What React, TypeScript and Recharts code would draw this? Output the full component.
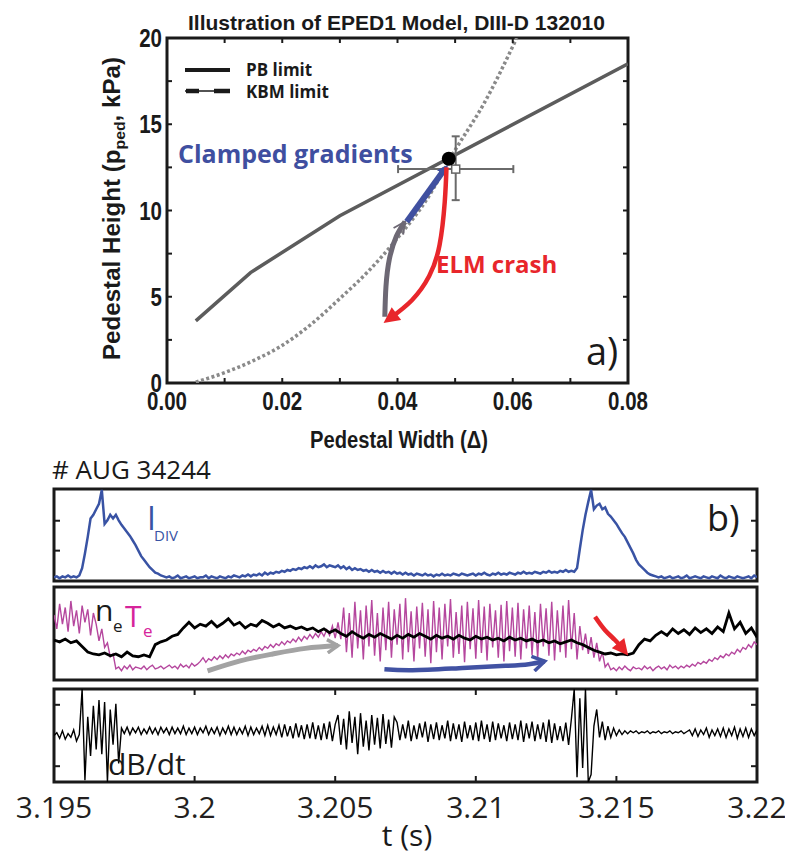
import React from "react";
import { ComposedChart, Line, Scatter, ErrorBar, XAxis, YAxis, ReferenceArea } from "recharts";

const COND = "'Liberation Sans', Arial, sans-serif";
const SANS = "'Open Sans', 'Noto Sans', sans-serif";
const INK = "#1a1a1a";

// ---------- panel a: EPED1 constraints (width, pedestal pressure in kPa) ----------
const pbWidth = [0.005, 0.0145, 0.03, 0.08];
const pbHeight = [3.6, 6.4, 9.7, 18.5];
const kbmWidth = [0.005, 0.01, 0.015, 0.0196, 0.025, 0.03, 0.035, 0.04, 0.045, 0.05, 0.055, 0.0607];
const kbmHeight = [0.05, 0.6, 1.3, 2.1, 3.4, 4.9, 6.5, 8.4, 10.6, 13.5, 16.2, 20];

// measured pedestal (open square with error bars) and EPED1 prediction (black dot)
const measured = [{ x: 0.0501, y: 12.4, ex: 0.01, ey: [1.8, 1.9] }];
const predicted = [{ x: 0.0489, y: 13.0 }];

// ELM cycle arrows
const recoverWidth = [0.0378, 0.038, 0.0386, 0.0398, 0.0413];
const recoverHeight = [3.84, 5.6, 7.2, 8.5, 9.35];
const clampWidth = [0.0416, 0.0482];
const clampHeight = [9.35, 12.4];
const crashWidth = [0.0485, 0.0482, 0.0473, 0.0455, 0.0425, 0.0387];
const crashHeight = [12.5, 10.5, 8.0, 6.2, 4.8, 3.75];

const widthTicks = [0, 0.01, 0.02, 0.03, 0.04, 0.05, 0.06, 0.07, 0.08];
const heightTicks = [0, 2.5, 5, 7.5, 10, 12.5, 15, 17.5, 20];

// ---------- panel b: AUG #34244 traces, normalised to 0..100 ----------
const T_START = 3.195;
const T_END = 3.22;
const timeTicks = [3.195, 3.2, 3.205, 3.21, 3.215, 3.22];
const innerTimeTicks = [3.2, 3.205, 3.21, 3.215];

// divertor current, 0.1 ms samples
const iDiv = [
  4, 5, 3, 5, 4, 6, 4, 5, 4, 6,
  14, 30, 48, 68, 72, 78, 84, 99, 62, 66,
  72, 68, 72, 66, 61, 57, 53, 49, 44, 39,
  33, 27, 23, 19, 15, 12, 9, 8, 6, 5,
  4, 5, 3, 4, 6, 3, 4, 5, 3, 4,
  5, 3, 4, 4, 6, 3, 5, 4, 3, 5,
  4, 3, 5, 4, 6, 5, 4, 6, 5, 7,
  5, 7, 6, 8, 6, 9, 7, 9, 8, 10,
  9, 11, 10, 12, 11, 13, 12, 14, 13, 15,
  14, 16, 14, 17, 15, 16, 18, 15, 17, 16,
  15, 17, 14, 16, 13, 15, 12, 14, 12, 13,
  11, 12, 10, 12, 10, 11, 9, 11, 9, 10,
  8, 10, 8, 9, 7, 9, 7, 8, 6, 8,
  7, 6, 8, 6, 7, 5, 7, 6, 8, 6,
  7, 6, 8, 7, 6, 8, 7, 6, 7, 8,
  6, 8, 7, 9, 7, 6, 8, 7, 9, 7,
  8, 7, 9, 8, 7, 9, 8, 10, 8, 9,
  8, 10, 9, 8, 10, 9, 11, 9, 10, 9,
  11, 10, 12, 10, 11, 10, 14, 35, 55, 72,
  86, 99, 78, 82, 84, 78, 80, 73, 70, 66,
  62, 57, 52, 48, 42, 36, 30, 23, 18, 15,
  12, 9, 7, 6, 5, 4, 5, 3, 4, 5,
  3, 4, 5, 3, 4, 6, 3, 4, 5, 4,
  3, 5, 4, 3, 5, 4, 3, 6, 4, 3,
  5, 4, 3, 5, 4, 3, 4, 5, 3, 6,
  4,
];

// electron temperature, 0.1 ms samples
const teTrace = [
  70, 55, 82, 60, 78, 52, 85, 58, 75, 50, 80, 62, 76, 48, 72,
  60, 42, 55, 35, 40, 25, 28, 12,
  14, 10, 15, 12, 16, 11, 14, 13, 12, 15, 11, 14, 16, 12, 13, 15, 12, 14, 16, 13,
  15, 12, 17, 14, 16, 13, 18, 15, 17,
  20, 24, 19, 23, 21, 25, 22, 26, 23, 27, 24, 28, 26, 29, 27, 31, 28, 32, 30, 33,
  31, 35, 32, 36, 34, 38, 35, 39, 37, 41, 38, 42, 40, 44, 41, 46, 42, 47, 44, 49,
  45, 50, 46, 52, 47, 54, 48, 58, 45, 62, 44,
  78, 30, 72, 24, 84, 34, 75, 22, 80, 36, 86, 26, 72, 20, 78, 32, 84, 24, 76, 38,
  82, 22, 88, 30, 74, 20, 79, 34, 83, 25, 76, 18, 85, 30, 78, 22, 82, 36, 87, 24,
  73, 28, 80, 19, 84, 33, 77, 23, 86, 29, 79, 21, 82, 35, 75, 24, 81, 20, 85, 31,
  78, 25, 83, 22, 76, 34, 80, 27, 73, 23, 82, 36, 77, 26, 84, 21, 75, 30, 80, 24,
  86, 33, 72, 22,
  58, 32, 50, 28, 46, 24, 40, 20, 30, 14, 18, 11,
  13, 10, 14, 11, 15, 12, 10, 14, 12, 13, 11, 15, 12, 14, 10, 13, 15, 12, 14, 11,
  16, 13, 15, 12,
  15, 13, 16, 14, 17, 15, 19, 17, 20, 18, 22, 20, 24, 22, 26, 24, 28, 26, 30, 28,
  33, 30, 35, 33, 38, 35, 41, 38,
];

// electron density, 0.2 ms samples
const neTrace = [
  43, 41, 44, 40, 42, 36, 30, 28, 27, 29,
  26, 28, 25, 30, 26, 25, 27, 25, 38, 41,
  43, 47, 49, 56, 62, 56, 60, 58, 63, 57,
  61, 66, 59, 62, 56, 60, 58, 64, 61, 57,
  60, 56, 58, 55, 57, 54, 56, 52, 55, 51,
  54, 50, 47, 52, 48, 45, 49, 46, 50, 47,
  44, 48, 45, 49, 46, 50, 47, 44, 48, 45,
  47, 44, 48, 45, 43, 47, 44, 46, 43, 45,
  42, 46, 43, 45, 42, 44, 41, 43, 40, 42,
  39, 41, 43, 40, 38, 35, 32, 30, 28, 29,
  27, 28, 27, 29, 38, 44, 42, 48, 52, 48,
  55, 50, 54, 49, 56, 51, 55, 50, 57, 52,
  72, 55, 62, 50, 56, 46,
];

// magnetic pick-up coil, 0.1 ms samples
const dBdt = [
  50, 53, 47, 55, 46, 52, 48, 56, 44, 51,
  100, 2, 70, 28, 82, 35, 88, 30, 86, 0, 78, 40, 84, 20,
  58, 52, 59, 51, 58, 53, 59, 51, 57, 52, 59, 52, 58, 51, 59, 53, 58, 51, 59, 52,
  58, 52, 60, 51, 58, 52, 59, 51, 58, 53, 60, 51, 58, 52, 59, 50, 58, 52, 60, 51,
  59, 51, 58, 52, 60, 50, 59, 51, 58, 52, 60, 50, 61, 50, 59, 51,
  61, 48, 62, 49, 60, 47, 63, 48, 61, 46, 62, 47, 64, 46, 61, 45, 63, 46, 65, 44, 62,
  72, 40, 68, 35, 76, 42, 70, 30, 74, 38, 66, 34, 72, 40, 69, 36, 73, 41, 67, 37, 70,
  64, 45, 62, 47, 66, 44, 61, 46, 63, 48, 65, 43, 62, 46, 64, 45, 61, 47, 66, 44,
  63, 46, 62, 43, 65, 47, 61, 45, 64, 44, 66, 46, 62, 43, 65, 45, 63, 47, 61, 44,
  64, 46, 62, 45, 66, 43, 63, 47, 65, 44, 62, 46, 64, 43, 67, 42, 63, 45,
  60, 44, 64, 40, 68, 100, 5, 90, 15, 100, 0,
  8, 60, 78, 48, 65, 45, 60, 48, 58, 50, 56, 51, 55, 52, 55,
  53, 55, 52, 54, 53, 55, 52, 54, 53, 55, 52, 54, 53, 55, 52, 54, 53, 55, 52, 54,
  56, 50, 57, 49, 56, 51, 58, 48, 56, 50, 57, 49, 58, 48, 57, 50, 59, 47, 57, 49,
  58, 48, 57, 50, 56,
];

// arrows drawn over the ne/Te panel (time, normalised level)
const buildupT = [3.20046, 3.20162, 3.20278, 3.20394, 3.2051];
const buildupV = [9.8, 20.6, 28, 34, 37];
const saturateT = [3.20675, 3.20775, 3.2094, 3.21106, 3.21188, 3.21245];
const saturateV = [11.6, 10.5, 12.7, 15.2, 17, 20.2];
const elmT = [3.21424, 3.21459, 3.21495, 3.21524];
const elmV = [68, 53.8, 43, 33];

const xy = (xs: number[], ys: number[]) => xs.map((x, i) => ({ x, y: ys[i] }));
const tv = (ts: number[], vs: number[]) => ts.map((t, i) => ({ t, v: vs[i] }));
const trace = (vals: number[], step: number) => vals.map((v, i) => ({ t: T_START + i * step, v }));

const fmtWidth = (v: number) => (Math.round(v * 100) % 2 === 0 ? v.toFixed(2) : "");
const fmtHeight = (v: number) => (v % 5 === 0 ? String(v) : "");
const fmtTime = (v: number) => String(+v.toFixed(3));

const widthLabel = (p: any) => (
  <text transform={`translate(${p.x},${p.y}) scale(0.82,1)`} textAnchor="middle" dy="0.72em"
    fontSize={25} fontFamily={COND} fontWeight={700} fill={INK}>{fmtWidth(p.payload.value)}</text>
);
const heightLabel = (p: any) => (
  <text transform={`translate(${p.x},${p.y}) scale(0.82,1)`} textAnchor="end" dy="0.36em"
    fontSize={25} fontFamily={COND} fontWeight={700} fill={INK}>{fmtHeight(p.payload.value)}</text>
);

// short inward tick drawn at a point sitting on the frame
const tickMark = (dx: number, dy: number) => (p: any) => (
  <line x1={p.cx} y1={p.cy} x2={p.cx + dx} y2={p.cy + dy} stroke={INK} strokeWidth={2} />
);

const line = { dot: false, activeDot: false, isAnimationActive: false } as const;
const bare = { tickSize: 0, tickLine: false, axisLine: false, interval: 0 as const };

function Markers() {
  return (
    <svg width={0} height={0} style={{ position: "absolute" }}>
      <defs>
        <marker id="headRed" viewBox="0 0 10 10" refX="5" refY="5" markerWidth="17" markerHeight="16" markerUnits="userSpaceOnUse" orient="auto">
          <path d="M0,0 L10,5 L0,10 z" fill="#e8262b" />
        </marker>
        <marker id="headBlue" viewBox="0 0 10 10" refX="5" refY="5" markerWidth="11" markerHeight="11" markerUnits="userSpaceOnUse" orient="auto">
          <path d="M0,0 L10,5 L0,10 z" fill="#4050a0" />
        </marker>
        <marker id="headGrayOpen" viewBox="0 0 12 12" refX="11" refY="6" markerWidth="14" markerHeight="14" markerUnits="userSpaceOnUse" orient="auto">
          <path d="M1,1 L11,6 L1,11" fill="none" stroke="#6d6874" strokeWidth="1.6" />
        </marker>
        <marker id="headLight" viewBox="0 0 12 12" refX="10" refY="6" markerWidth="16" markerHeight="16" markerUnits="userSpaceOnUse" orient="auto">
          <path d="M2,1 L10,6 L2,11" fill="none" stroke="#a3a3a3" strokeWidth="2.6" />
        </marker>
        <marker id="headNavy" viewBox="0 0 12 12" refX="10" refY="6" markerWidth="18" markerHeight="18" markerUnits="userSpaceOnUse" orient="auto">
          <path d="M2,1 L10,6 L2,11" fill="none" stroke="#4152a3" strokeWidth="2.4" />
        </marker>
      </defs>
    </svg>
  );
}

function EpedPanel() {
  return (
    <ComposedChart width={785} height={460} margin={{ top: 38, right: 157, bottom: 37, left: 107 }}>
      <XAxis type="number" dataKey="x" domain={[0, 0.08]} allowDataOverflow ticks={widthTicks} height={40}
        tickMargin={9} tick={widthLabel} {...bare} />
      <YAxis type="number" domain={[0, 20]} allowDataOverflow ticks={heightTicks} width={60}
        tickMargin={5} tick={heightLabel} {...bare} />
      <ReferenceArea x1={0} x2={0.08} y1={0} y2={20} fill="none" stroke={INK} strokeWidth={3} ifOverflow="visible" />

      {/* inward ticks on all four sides */}
      <Scatter data={widthTicks.map((x) => ({ x, y: 0 }))} dataKey="y" shape={tickMark(0, -5)} isAnimationActive={false} />
      <Scatter data={widthTicks.map((x) => ({ x, y: 20 }))} dataKey="y" shape={tickMark(0, 5)} isAnimationActive={false} />
      <Scatter data={heightTicks.map((y) => ({ x: 0, y }))} dataKey="y" shape={tickMark(5, 0)} isAnimationActive={false} />
      <Scatter data={heightTicks.map((y) => ({ x: 0.08, y }))} dataKey="y" shape={tickMark(-5, 0)} isAnimationActive={false} />

      <Line data={xy(kbmWidth, kbmHeight)} dataKey="y" type="monotone" stroke="#8a8a8a" strokeWidth={3.5}
        strokeDasharray="3 2.5" {...line} />
      <Line data={xy(pbWidth, pbHeight)} dataKey="y" type="linear" stroke="#5c5c5c" strokeWidth={3.5} {...line} />

      <Scatter
        data={measured} dataKey="y" isAnimationActive={false}
        shape={(p: any) => <rect x={p.cx - 4} y={p.cy - 4} width={8} height={8} fill="#fff" stroke="#666" strokeWidth={1.5} />}
      >
        <ErrorBar dataKey="ex" direction="x" width={4} stroke="#6a6a6a" strokeWidth={2} />
        <ErrorBar dataKey="ey" direction="y" width={4} stroke="#6a6a6a" strokeWidth={2} />
      </Scatter>
      <Scatter
        data={predicted} dataKey="y" isAnimationActive={false}
        shape={(p: any) => <circle cx={p.cx} cy={p.cy} r={7} fill="#000" />}
      />

      <Line data={xy(recoverWidth, recoverHeight)} dataKey="y" type="natural" stroke="#6d6874" strokeWidth={5}
        markerEnd="url(#headGrayOpen)" {...line} />
      <Line data={xy(clampWidth, clampHeight)} dataKey="y" type="linear" stroke="#4050a0" strokeWidth={6}
        markerEnd="url(#headBlue)" {...line} />
      <Line data={xy(crashWidth, crashHeight)} dataKey="y" type="natural" stroke="#e8262b" strokeWidth={4.5}
        markerEnd="url(#headRed)" {...line} />
    </ComposedChart>
  );
}

// shared time axis, frame and inward ticks for the three stacked panels
function timeFrame(levelTicks: number[], withTimeTicks: boolean) {
  const items = [
    <XAxis key="xb" type="number" dataKey="t" domain={[T_START, T_END]} allowDataOverflow
      ticks={withTimeTicks ? timeTicks : []} height={withTimeTicks ? 40 : 0} tickMargin={15}
      tickFormatter={fmtTime} tick={{ fontSize: 30, fontFamily: SANS, fill: "#231f20" }} {...bare} />,
    <YAxis key="yl" type="number" domain={[0, 100]} allowDataOverflow width={0} tick={false} {...bare} />,
    <ReferenceArea key="box" x1={T_START} x2={T_END} y1={0} y2={100} fill="none" stroke={INK} strokeWidth={3} ifOverflow="visible" />,
    <Scatter key="tl" data={levelTicks.map((v) => ({ t: T_START, v }))} dataKey="v" shape={tickMark(6, 0)} isAnimationActive={false} />,
    <Scatter key="tr" data={levelTicks.map((v) => ({ t: T_END, v }))} dataKey="v" shape={tickMark(-6, 0)} isAnimationActive={false} />,
  ];
  if (withTimeTicks) {
    items.push(
      <Scatter key="tb" data={innerTimeTicks.map((t) => ({ t, v: 0 }))} dataKey="v" shape={tickMark(0, -6)} isAnimationActive={false} />,
      <Scatter key="tt" data={innerTimeTicks.map((t) => ({ t, v: 100 }))} dataKey="v" shape={tickMark(0, 6)} isAnimationActive={false} />,
    );
  }
  return items;
}

function Overlay() {
  return (
    <svg width={785} height={856} style={{ position: "absolute", left: 0, top: 0, pointerEvents: "none" }}>
      {/* panel a */}
      <text x={188} y={30} textLength={417} lengthAdjust="spacingAndGlyphs" fontFamily={COND} fontWeight={700} fontSize={21} fill={INK}>
        Illustration of EPED1 Model, DIII-D 132010
      </text>
      <text transform="translate(120,360) rotate(-90)" textLength={303} lengthAdjust="spacingAndGlyphs"
        fontFamily={COND} fontWeight={700} fontSize={23} fill={INK}>
        Pedestal Height (p<tspan fontSize={15} dy={5}>ped</tspan><tspan dy={-5}>, kPa)</tspan>
      </text>
      <text x={310} y={448} textLength={178} lengthAdjust="spacingAndGlyphs" fontFamily={COND} fontWeight={700} fontSize={23} fill={INK}>
        Pedestal Width (Δ)
      </text>
      <line x1={185} y1={70} x2={230} y2={70} stroke={INK} strokeWidth={4} />
      <line x1={185} y1={91} x2={230} y2={91} stroke={INK} strokeWidth={1.5} />
      <line x1={186} y1={91} x2={199} y2={91} stroke={INK} strokeWidth={4.5} />
      <line x1={214} y1={91} x2={230} y2={91} stroke={INK} strokeWidth={4.5} />
      <text x={246} y={76} fontFamily={SANS} fontWeight={700} fontSize={17} fill={INK}>PB limit</text>
      <text x={246} y={98} fontFamily={SANS} fontWeight={700} fontSize={17} fill={INK}>KBM limit</text>
      <text x={178} y={163} fontFamily={SANS} fontWeight={700} fontSize={25} fill="#3f4fa0">Clamped gradients</text>
      <text x={436} y={273} fontFamily={SANS} fontWeight={700} fontSize={24} fill="#e8262b">ELM crash</text>
      <text x={586} y={365} fontFamily={SANS} fontSize={38} fill={INK}>a)</text>

      {/* panel b */}
      <text x={52} y={479} fontFamily={SANS} fontSize={26} fill={INK}># AUG 34244</text>
      <text x={147} y={530} fontFamily={SANS} fontSize={32} fill="#3953a4">I</text>
      <text x={154} y={541} fontFamily={SANS} fontSize={15} fill="#3953a4">DIV</text>
      <text x={707} y={531} fontFamily={SANS} fontSize={36} fill={INK}>b)</text>
      <text x={95} y={621} fontFamily={SANS} fontSize={30} fill={INK}>n</text>
      <text x={113} y={632} fontFamily={SANS} fontSize={17} fill={INK}>e</text>
      <text x={125} y={627} fontFamily={SANS} fontSize={30} fill="#d6249a">T</text>
      <text x={143} y={637} fontFamily={SANS} fontSize={17} fill="#d6249a">e</text>
      <text x={108} y={775} fontFamily={SANS} fontSize={30} fill={INK}>dB/dt</text>
      <text x={407} y={846} textAnchor="middle" fontFamily={SANS} fontSize={30} fill={INK}>t (s)</text>
    </svg>
  );
}

export default function App() {
  return (
    <div style={{ position: "absolute", left: 0, top: 0, width: 785, height: 856, background: "#fff", overflow: "hidden" }}>
      <Markers />
      <div style={{ position: "absolute", left: 0, top: 0 }}>
        <EpedPanel />
      </div>

      {/* divertor current */}
      <div style={{ position: "absolute", left: 0, top: 480 }}>
        <ComposedChart width={785} height={110} margin={{ top: 9, right: 28, bottom: 9, left: 54 }}>
          {timeFrame([33, 65.5], false)}
          <Line data={trace(iDiv, 0.0001)} dataKey="v" type="linear" stroke="#3953a4" strokeWidth={2.5} {...line} />
        </ComposedChart>
      </div>

      {/* pedestal density and temperature */}
      <div style={{ position: "absolute", left: 0, top: 584 }}>
        <ComposedChart width={785} height={100} margin={{ top: 3, right: 28, bottom: 4, left: 54 }}>
          {timeFrame([], false)}
          <Line data={trace(teTrace, 0.0001)} dataKey="v" type="linear" stroke="#b5479e" strokeWidth={1.4} {...line} />
          <Line data={trace(neTrace, 0.0002)} dataKey="v" type="linear" stroke="#000" strokeWidth={2.8} {...line} />
          <Line data={tv(buildupT, buildupV)} dataKey="v" type="natural" stroke="#a3a3a3" strokeWidth={5}
            markerEnd="url(#headLight)" {...line} />
          <Line data={tv(saturateT, saturateV)} dataKey="v" type="natural" stroke="#4152a3" strokeWidth={4.5}
            markerEnd="url(#headNavy)" {...line} />
          <Line data={tv(elmT, elmV)} dataKey="v" type="natural" stroke="#e8262b" strokeWidth={4.5}
            markerEnd="url(#headRed)" {...line} />
        </ComposedChart>
      </div>

      {/* magnetic fluctuations */}
      <div style={{ position: "absolute", left: 0, top: 686 }}>
        <ComposedChart width={785} height={170} margin={{ top: 3, right: 28, bottom: 34, left: 54 }}>
          {timeFrame([17, 83], true)}
          <Line data={trace(dBdt, 0.0001)} dataKey="v" type="linear" stroke="#000" strokeWidth={1.4} {...line} />
        </ComposedChart>
      </div>

      <Overlay />
    </div>
  );
}
